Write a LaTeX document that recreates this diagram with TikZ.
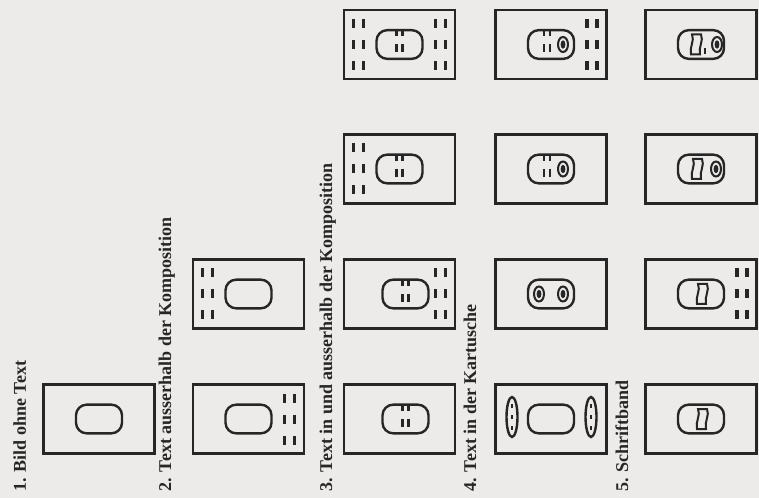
\documentclass[tikz,border=0pt]{standalone}
\usepackage{fontspec}
\setmainfont{Liberation Serif}
\definecolor{paper}{RGB}{236,235,233}
\definecolor{ink}{RGB}{38,38,38}

\begin{document}
\begin{tikzpicture}
    [x=0.75pt, y=-0.75pt,
    frame/.style={draw=ink, line width=1.9pt, inner sep=0pt, minimum width=83pt, minimum height=52pt},
    cart/.style={draw=ink, line width=1.8pt, inner sep=0pt, rounded corners=8pt, minimum width=34.5pt, minimum height=21.5pt},
    bar/.style={draw=ink, line width=2.4pt},
    inbar/.style={draw=ink, line width=1.8pt},
    ring/.style={draw=ink, line width=1.5pt},
    lab/.style={rotate=90, anchor=base west, inner sep=0pt, text=ink, font=\bfseries\fontsize{13.5}{16}\selectfont}]
        \path[use as bounding box, fill=paper] (0,0) rectangle (759,498);

        % labels
        \node[lab] (L1) at (26,492) {1. Bild ohne Text};
        \node[lab] (L2) at (171,492) {2. Text ausserhalb der Komposition};
        \node[lab] (L3) at (332,492) {3. Text in und ausserhalb der Komposition};
        \node[lab] (L4) at (476,492) {4. Text in der Kartusche};
        \node[lab] (L5) at (628,492) {5. Schriftband};

        % pictures
        \node[frame] (B1) at (99,419) {};
        \node[frame] (B2a) at (248.5,294) {};
        \node[frame] (B2b) at (248.5,419) {};
        \foreach \r/\y in {a/44.5,b/169,c/294,d/419} {
            \node[frame] (B3\r) at (399.5,\y) {};
            \node[frame] (B4\r) at (551,\y) {};
            \node[frame] (B5\r) at (701,\y) {};
        }

        % cartouches
        \foreach \b in {B1,B2a,B2b,B3a,B3b,B4a,B4b,B4c,B4d,B5a,B5b,B5c,B5d}
            \node[cart] (K\b) at (\b.center) {};
        \node[cart, xshift=4.5pt] (KB3c) at (B3c.center) {};
        \node[cart, xshift=4.5pt] (KB3d) at (B3d.center) {};

        % text outside
        \foreach \b/\s in {B2a/-1,B3a/-1,B3b/-1,B2b/1,B3a/1,B3c/1,B4a/1,B5c/1} {
            \begin{scope}[shift={(\b.center)}]
                \foreach \dx in {36,46}
                    \foreach \dy in {-21,0,21}
                        \draw[bar] (\s*\dx,\dy-4.5) -- (\s*\dx,\dy+4.5);
            \end{scope}
        }

        % text inside
        \foreach \k/\o in {KB3a/0,KB3b/0,KB3c/0,KB3d/0,KB4a/-4,KB4b/-4} {
            \begin{scope}[shift={(\k.center)}]
                \foreach \dx in {-3,3} {
                    \draw[inbar] (\o+\dx,-14) -- (\o+\dx,-8);
                    \draw[inbar] (\o+\dx,0) -- (\o+\dx,8);
                }
            \end{scope}
        }
        \foreach \k/\dx in {KB4a/12,KB4b/12,KB4c/-12,KB4c/12,KB5a/16,KB5b/15} {
            \begin{scope}[shift={(\k.center)}]
                \draw[ring] (\dx,0) ellipse [x radius=5, y radius=7.5];
                \fill[ink] (\dx,0) ellipse [x radius=2.4, y radius=4.2];
            \end{scope}
        }

        % side cartouches
        \foreach \dx in {-39,40} {
            \begin{scope}[shift={(B4d.center)}]
                \draw[ring, line width=1.8pt] (\dx,-2) ellipse [x radius=5.5, y radius=20];
                \foreach \dy in {-13,-2,9}
                    \draw[inbar] (\dx,\dy-2) -- (\dx,\dy+2);
            \end{scope}
        }

        % bands
        \foreach \k/\dx in {KB5a/-5,KB5b/-4,KB5c/1,KB5d/1} {
            \begin{scope}[shift={(\k.center)}]
                \draw[ring] (\dx-4,-10) .. controls (\dx-1,-4) and (\dx-7,3) .. (\dx-5,10)
                    -- (\dx+4,10) .. controls (\dx+2,3) and (\dx+8,-4) .. (\dx+5,-10) -- cycle;
            \end{scope}
        }
        \draw[inbar] ([shift={(4,4)}]KB5a.center) -- ++(0,6);
   \end{tikzpicture}
\end{document}
